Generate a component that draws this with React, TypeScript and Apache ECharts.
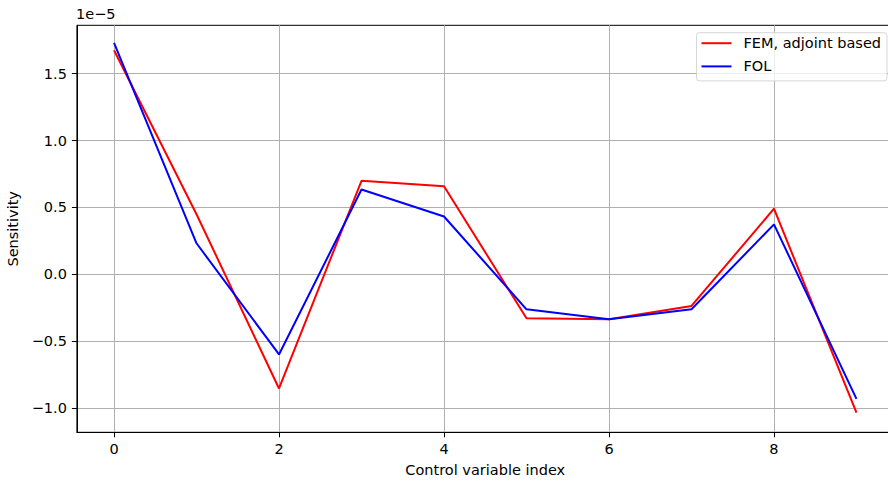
import React, { useEffect, useRef } from "react";
import * as echarts from "echarts";

// Data (sensitivity values in units of 1e-5)
const controlIndex = [0, 1, 2, 3, 4, 5, 6, 7, 8, 9];
const femValues = [1.674, 0.45, -0.851, 0.699, 0.659, -0.327, -0.334, -0.235, 0.491, -1.031];
const folValues = [1.729, 0.233, -0.597, 0.634, 0.433, -0.26, -0.334, -0.26, 0.374, -0.929];
const xTickValues = [0, 2, 4, 6, 8];
const yTickValues = [-1.0, -0.5, 0.0, 0.5, 1.0, 1.5];
const scaleText = "1e\u22125";
const seriesNames = ["FEM, adjoint based", "FOL"];
const xAxisName = "Control variable index";
const yAxisName = "Sensitivity";

const FONT = "DejaVu Sans";
const FS = 14.5;
const CHART_W = 900;

export default function App() {
  const ref = useRef<HTMLDivElement>(null);
  useEffect(() => {
    if (!ref.current) return;
    const chart = echarts.init(ref.current, undefined, { renderer: "svg" });
    const fmtY = (v: number) => v.toFixed(1).replace("-", "\u2212");
    chart.setOption({
      animation: false,
      backgroundColor: "#ffffff",
      textStyle: { fontFamily: FONT },
      grid: {
        left: 76.9,
        right: CHART_W - 893.6,
        top: 25.3,
        bottom: 50.7,
        outerBoundsMode: "none",
        containLabel: false,
        show: true,
        borderColor: "#000000",
        borderWidth: 1,
        backgroundColor: "transparent",
      },
      graphic: [
        {
          type: "text",
          left: 76,
          top: 6,
          style: { text: scaleText, fontFamily: FONT, fontSize: FS, fill: "#000" },
        },
      ],
      legend: {
        orient: "vertical",
        right: CHART_W - 887,
        top: 32.7,
        icon: "rect",
        itemWidth: 30,
        itemHeight: 2,
        itemGap: 8.2,
        padding: [3, 6, 7, 5],
        borderColor: "rgba(204,204,204,0.8)",
        borderWidth: 1,
        borderRadius: 3,
        backgroundColor: "rgba(255,255,255,0.8)",
        textStyle: { fontFamily: FONT, fontSize: FS, color: "#000", padding: [0, 0, 0, 7] },
        data: seriesNames,
      },
      xAxis: {
        type: "value",
        min: -0.45,
        max: 9.45,
        name: xAxisName,
        nameLocation: "middle",
        nameGap: 30,
        nameTextStyle: { fontFamily: FONT, fontSize: FS, color: "#000" },
        axisLine: { show: true, onZero: false, lineStyle: { color: "#000", width: 1 } },
        axisTick: { show: true, length: 5, lineStyle: { color: "#000", width: 1 }, customValues: xTickValues },
        axisLabel: {
          customValues: xTickValues,
          margin: 9,
          fontFamily: FONT,
          fontSize: FS,
          color: "#000",
          formatter: (v: number) => String(v),
        },
        splitLine: { show: true, lineStyle: { color: "#b0b0b0", width: 1 } },
      },
      yAxis: {
        type: "value",
        min: -1.178,
        max: 1.86,
        name: yAxisName,
        nameLocation: "middle",
        nameGap: 48,
        nameRotate: 90,
        nameTextStyle: { fontFamily: FONT, fontSize: FS, color: "#000" },
        axisLine: { show: true, onZero: false, lineStyle: { color: "#000", width: 1 } },
        axisTick: { show: true, length: 5, lineStyle: { color: "#000", width: 1 }, customValues: yTickValues },
        axisLabel: {
          customValues: yTickValues,
          margin: 10,
          fontFamily: FONT,
          fontSize: FS,
          color: "#000",
          formatter: fmtY,
        },
        splitLine: { show: true, lineStyle: { color: "#b0b0b0", width: 1 } },
      },
      series: [
        {
          name: seriesNames[0],
          type: "line",
          data: controlIndex.map((x, i) => [x, femValues[i]]),
          showSymbol: false,
          lineStyle: { color: "#ff0000", width: 2 },
          itemStyle: { color: "#ff0000" },
          z: 2,
        },
        {
          name: seriesNames[1],
          type: "line",
          data: controlIndex.map((x, i) => [x, folValues[i]]),
          showSymbol: false,
          lineStyle: { color: "#0000ff", width: 2 },
          itemStyle: { color: "#0000ff" },
          z: 3,
        },
      ],
    });
    return () => chart.dispose();
  }, []);
  return (
    <div
      style={{
        position: "absolute",
        left: 0,
        top: 0,
        width: 888,
        height: 483,
        overflow: "hidden",
      }}
    >
      <div ref={ref} style={{ width: CHART_W, height: 483 }} />
    </div>
  );
}
